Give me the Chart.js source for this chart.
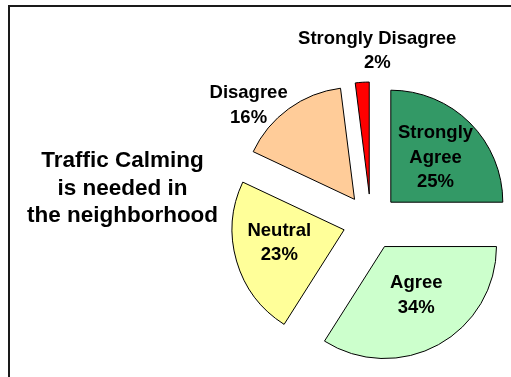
<!DOCTYPE html>
<html lang="en">
<head>
  <meta charset="UTF-8"/>
  <title>Traffic Calming Survey</title>
  <script src="https://cdn.jsdelivr.net/npm/chart.js"></script>
  <style>
    body {
      margin: 0;
      background: #fff;
      font-family: "Liberation Sans", Arial, sans-serif;
    }
    #wrap {
      position: relative;
      width: 511px;
      height: 377px;
      overflow: hidden;
    }
    #frame {
      position: absolute;
      left: 8px;
      top: 5px;
      width: 600px;
      height: 500px;
      border-top: 2px solid #1a1a1a;
      border-left: 2px solid #1a1a1a;
    }
    #surveyChart {
      position: absolute;
      left: 0;
      top: 0;
    }
    #question {
      position: absolute;
      left: 0;
      top: 146px;
      width: 245px;
      text-align: center;
      font-weight: bold;
      font-size: 22.5px;
      line-height: 27.5px;
      color: #000;
    }
  </style>
</head>
<body>
  <div id="wrap">
    <div id="frame"></div>
    <canvas id="surveyChart" width="511" height="377"></canvas>
    <div id="question">Traffic Calming<br/>is needed in<br/>the neighborhood</div>
  </div>
  <script>
    // survey answers, clockwise from 12 o'clock
    const answers = ['Strongly Agree', 'Agree', 'Neutral', 'Disagree', 'Strongly Disagree'];
    const labelLines = [['Strongly', 'Agree'], ['Agree'], ['Neutral'], ['Disagree'], ['Strongly Disagree']];
    const shares = [25, 34, 23, 16, 2];
    const sliceColors = ['#339966', '#CCFFCC', '#FFFF99', '#FFCC99', '#FF0000'];

    const EXPLODE = 28;
    // where each label sits: distance from the slice tip (in radii) and a turn off the mid angle (deg)
    const labelPlace = [
      { k: 0.565, turn: 0 },
      { k: 0.52, turn: -4.3 },
      { k: 0.59, turn: 4.9 },
      { k: 1.265, turn: -12.4 },
      { k: 1.28, turn: 6.8 }
    ];

    // pull every slice out along its middle angle
    const explodePlugin = {
      id: 'explode',
      beforeDatasetDraw(chart, args) {
        const ctx = chart.ctx;
        args.meta.data.forEach(arc => {
          const mid = (arc.startAngle + arc.endAngle) / 2;
          ctx.save();
          ctx.translate(Math.cos(mid) * EXPLODE, Math.sin(mid) * EXPLODE);
          arc.draw(ctx);
          ctx.restore();
        });
        return false;
      }
    };

    const labelPlugin = {
      id: 'sliceLabels',
      afterDatasetsDraw(chart) {
        const ctx = chart.ctx;
        const meta = chart.getDatasetMeta(0);
        ctx.save();
        ctx.font = 'bold 18.5px "Liberation Sans", Arial, sans-serif';
        ctx.fillStyle = '#000';
        ctx.textAlign = 'center';
        ctx.textBaseline = 'middle';
        meta.data.forEach((arc, i) => {
          const mid = (arc.startAngle + arc.endAngle) / 2;
          const a = mid + labelPlace[i].turn * Math.PI / 180;
          const d = labelPlace[i].k * arc.outerRadius;
          const x = arc.x + Math.cos(mid) * EXPLODE + Math.cos(a) * d;
          const y = arc.y + Math.sin(mid) * EXPLODE + Math.sin(a) * d;
          const lines = labelLines[i].concat([shares[i] + '%']);
          const lh = 24.5;
          const y0 = y - (lines.length - 1) * lh / 2;
          lines.forEach((t, j) => ctx.fillText(t, x, y0 + j * lh));
        });
        ctx.restore();
      }
    };

    new Chart(document.getElementById('surveyChart'), {
      type: 'pie',
      data: {
        labels: answers,
        datasets: [{
          data: shares,
          backgroundColor: sliceColors,
          borderColor: '#000',
          borderWidth: 1
        }]
      },
      options: {
        responsive: false,
        animation: false,
        radius: 112,
        layout: { padding: { left: 231, top: 67, right: 0, bottom: 0 } },
        plugins: {
          legend: { display: false },
          tooltip: { enabled: false }
        }
      },
      plugins: [explodePlugin, labelPlugin]
    });
  </script>
</body>
</html>
